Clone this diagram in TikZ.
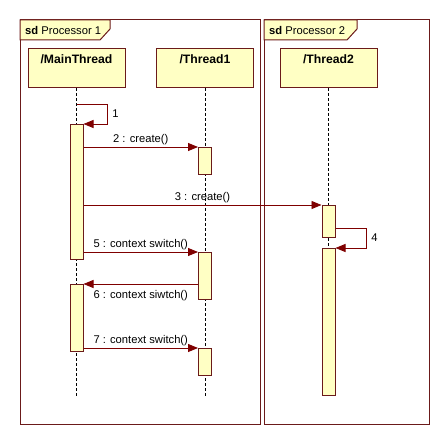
\documentclass[tikz,border=0pt]{standalone}
\usepackage{fontspec}
\setmainfont{Liberation Sans}
\usetikzlibrary{arrows.meta}

\definecolor{umlline}{HTML}{6B1A1A}
\definecolor{umlarrow}{HTML}{7F0000}
\definecolor{umlfill}{HTML}{FFFFC4}

\begin{document}
\begin{tikzpicture}[x=1pt,y=-1pt,font=\fontsize{11.2}{13}\selectfont,
    msg/.style={draw=umlarrow,line width=.9pt,-{Triangle[length=10pt,width=8pt]}},
    life/.style={draw=black,line width=.8pt,dash pattern=on 3pt off 2pt}]

        \useasboundingbox (0,0) rectangle (448,444);

        % frames
        \draw[umlline,line width=1pt] (20,20) rectangle (260,424);
        \draw[umlline,line width=1pt,fill=umlfill] (20,20) -- (110,20) -- (110,29) -- (100,40) -- (20,40) -- cycle;
        \node[anchor=base west,inner sep=0] (sd1) at (25,35) {\textbf{sd} Processor 1};
        \draw[umlline,line width=1pt] (264,20) rectangle (429,424);
        \draw[umlline,line width=1pt,fill=umlfill] (264,20) -- (357,20) -- (357,29) -- (347,40) -- (264,40) -- cycle;
        \node[anchor=base west,inner sep=0] (sd2) at (269,35) {\textbf{sd} Processor 2};

        \begin{scope}[every node/.style={draw=umlline,line width=1pt,fill=umlfill,anchor=north,
            minimum width=97,text height=12,text depth=21,inner ysep=3,font=\fontsize{12.2}{13}\selectfont\bfseries}]
          \node (main) at (76.5,48) {/MainThread};
          \node (thr1) at (205,48)  {/Thread1};
          \node (thr2) at (328.5,48) {/Thread2};
        \end{scope}

        \coordinate (mainend) at (76.5,397);
        \coordinate (thr1end) at (205,397);
        \coordinate (thr2end) at (328.5,397);
        \path[life] (main.south) edge (mainend)
                    (thr1.south) edge (thr1end)
                    (thr2.south) edge (thr2end);

        \begin{scope}[every node/.style={draw=umlline,line width=1pt,fill=umlfill,anchor=north,
            minimum width=13,inner sep=0}]
          \node[minimum height=135] (ma1) at (76.5,124) {};
          \node[minimum height=67]  (ma2) at (76.5,284) {};
          \node[minimum height=27]  (ta1) at (205,147)  {};
          \node[minimum height=47]  (ta2) at (205,252)  {};
          \node[minimum height=27]  (ta3) at (205,348)  {};
          \node[minimum height=32]  (tb1) at (328.5,205) {};
          \node[minimum height=147] (tb2) at (328.5,248) {};
        \end{scope}

        \coordinate (s1) at (107,104);
        \coordinate (s4) at (366,228);

        \begin{scope}[every node/.style={inner sep=2pt}]
          \draw[msg] (main.south |- s1) -- (s1) |- node[pos=.25,right=3pt] {1} (ma1.north east);
          \draw[msg] (ma1.east |- ta1.north) -- node[above] {2 : create()} (ta1.north west);
          \draw[msg] (ma1.east |- tb1.north) -- node[above] {3 : create()} (tb1.north west);
          \draw[msg] (tb1.east |- s4) -- (s4) |- node[pos=.25,right=3pt] {4} (tb2.north east);
          \draw[msg] (ma1.east |- ta2.north) -- node[above] {5 : context switch()} (ta2.north west);
          \draw[msg] (ta2.west |- ma2.north) -- node[below=4pt] {6 : context siwtch()} (ma2.north east);
          \draw[msg] (ma2.east |- ta3.north) -- node[above] {7 : context switch()} (ta3.north west);
        \end{scope}

      \end{tikzpicture}
\end{document}
